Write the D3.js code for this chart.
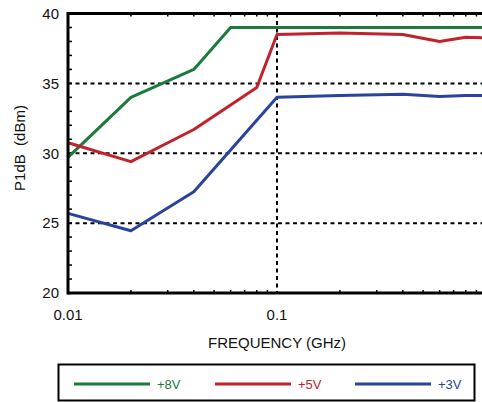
<!DOCTYPE html>
<html><head><meta charset="utf-8">
<script src="https://cdn.jsdelivr.net/npm/d3@7"></script>
<style>body{margin:0;background:#fff;}svg{display:block;}</style>
</head><body>
<script>
const freqs8 = [0.01, 0.02, 0.04, 0.06, 0.1, 0.2, 0.4, 0.6, 0.8, 1.0];
const vals8  = [29.7, 34.0, 36.0, 39.0, 39.0, 39.0, 39.0, 39.0, 39.0, 39.0];
const freqs5 = [0.01, 0.02, 0.04, 0.06, 0.08, 0.1, 0.2, 0.4, 0.6, 0.8, 1.0];
const vals5  = [30.75, 29.4, 31.7, 33.45, 34.7, 38.5, 38.6, 38.5, 38.0, 38.3, 38.25];
const freqs3 = [0.01, 0.02, 0.04, 0.1, 0.2, 0.4, 0.6, 0.8, 1.0];
const vals3  = [25.7, 24.45, 27.25, 34.0, 34.13, 34.23, 34.06, 34.13, 34.13];
const seriesNames = ["+8V", "+5V", "+3V"];
const seriesColors = ["#1c7a3c", "#c1222b", "#2a449c"];
const yTicks = [20, 25, 30, 35, 40];
const xTickLabels = [0.01, 0.1];
const gridY = [25, 30, 35];
const gridX = [0.1];

const W = 482, H = 402;
const svg = d3.select("body").append("svg").attr("width", W).attr("height", H);
const x = d3.scaleLog().domain([0.01, 1]).range([68, 486]);
const y = d3.scaleLinear().domain([20, 40]).range([293, 13.5]);
const font = "'Liberation Sans', Arial, Helvetica, sans-serif";

// grid
svg.append("g").selectAll("line").data(gridY).join("line")
  .attr("x1", 68).attr("x2", W).attr("y1", d => y(d)).attr("y2", d => y(d))
  .attr("stroke", "#000").attr("stroke-width", 2).attr("stroke-dasharray", "4,3.5");
svg.append("g").selectAll("line").data(gridX).join("line")
  .attr("x1", d => x(d)).attr("x2", d => x(d)).attr("y1", 13.5).attr("y2", 293)
  .attr("stroke", "#000").attr("stroke-width", 2).attr("stroke-dasharray", "4,3.5");

// minor ticks
const minorX = [];
[0.01, 0.1].forEach(dec => { for (let k = 2; k <= 9; k++) minorX.push(dec * k); });
svg.append("g").selectAll("line").data(minorX).join("line")
  .attr("x1", d => x(d)).attr("x2", d => x(d)).attr("y1", 293).attr("y2", 290)
  .attr("stroke", "#000").attr("stroke-width", 1.5);
svg.append("g").selectAll("line").data(minorX).join("line")
  .attr("x1", d => x(d)).attr("x2", d => x(d)).attr("y1", 13.5).attr("y2", 16.5)
  .attr("stroke", "#000").attr("stroke-width", 1.5);
const minorY = d3.range(21, 40);
svg.append("g").selectAll("line").data(minorY).join("line")
  .attr("x1", 68).attr("x2", 72).attr("y1", d => y(d)).attr("y2", d => y(d))
  .attr("stroke", "#000").attr("stroke-width", 1.5);

// series
const line = d3.line().x(d => x(d[0])).y(d => y(d[1]));
const series = [
  d3.zip(freqs8, vals8),
  d3.zip(freqs5, vals5),
  d3.zip(freqs3, vals3)
];
series.forEach((s, i) => {
  svg.append("path").datum(s).attr("d", line).attr("fill", "none")
    .attr("stroke", seriesColors[i]).attr("stroke-width", 3).attr("stroke-linejoin", "round");
});

// frame
svg.append("line").attr("x1", 68).attr("x2", W).attr("y1", 13.5).attr("y2", 13.5)
  .attr("stroke", "#000").attr("stroke-width", 3);
svg.append("line").attr("x1", 68).attr("x2", W).attr("y1", 293).attr("y2", 293)
  .attr("stroke", "#000").attr("stroke-width", 3);
svg.append("line").attr("x1", 68).attr("x2", 68).attr("y1", 12).attr("y2", 294.5)
  .attr("stroke", "#000").attr("stroke-width", 3);

// tick labels
svg.append("g").selectAll("text").data(yTicks).join("text")
  .attr("x", 59).attr("y", d => y(d)).attr("dy", "0.35em").attr("text-anchor", "end")
  .attr("font-family", font).attr("font-size", 15).attr("fill", "#111").text(d => d);
svg.append("g").selectAll("text").data(xTickLabels).join("text")
  .attr("x", d => x(d)).attr("y", 320).attr("text-anchor", "middle")
  .attr("font-family", font).attr("font-size", 15).attr("fill", "#111").text(d => d);

// axis titles
svg.append("text").attr("x", 277).attr("y", 348).attr("text-anchor", "middle")
  .attr("font-family", font).attr("font-size", 15).attr("fill", "#111").text("FREQUENCY (GHz)");
svg.append("text").attr("transform", "translate(25,148) rotate(-90)").attr("text-anchor", "middle")
  .attr("font-family", font).attr("font-size", 15).attr("fill", "#111").attr("xml:space", "preserve")
  .style("white-space", "pre").text("P1dB  (dBm)");

// legend
svg.append("rect").attr("x", 58.5).attr("y", 364.5).attr("width", 416).attr("height", 36)
  .attr("fill", "none").attr("stroke", "#000").attr("stroke-width", 2);
const legX = [74, 215, 355];
seriesNames.forEach((n, i) => {
  svg.append("line").attr("x1", legX[i]).attr("x2", legX[i] + 76).attr("y1", 384).attr("y2", 384)
    .attr("stroke", seriesColors[i]).attr("stroke-width", 3);
  svg.append("text").attr("x", legX[i] + 83).attr("y", 384).attr("dy", "0.35em")
    .attr("font-family", font).attr("font-size", 13).attr("fill", seriesColors[i]).text(n);
});
</script>
</body></html>
